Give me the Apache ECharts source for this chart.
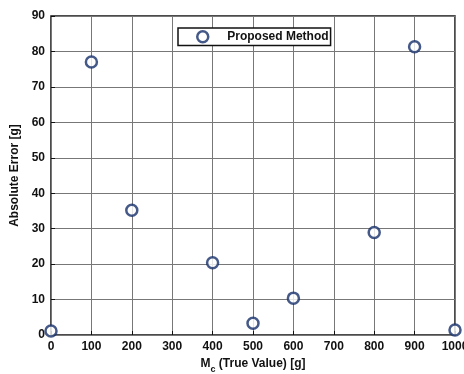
<!DOCTYPE html>
<html>
<head>
<meta charset="utf-8">
<script src="https://cdn.jsdelivr.net/npm/echarts@6/dist/echarts.min.js"></script>
<style>
  html, body { margin: 0; padding: 0; background: #fff; }
  #chart { width: 464px; height: 374px; }
</style>
</head>
<body>
<div id="chart"></div>
<script>
// true value (g) and absolute error (g)
var trueValues = [0, 100, 200, 400, 500, 600, 800, 900, 1000];
var absErrors = [1.1, 77, 35.2, 20.4, 3.3, 10.4, 28.9, 81.3, 1.4];
var seriesName = 'Proposed Method';

var font = '"Liberation Sans", Arial, sans-serif';

var points = trueValues.map(function (x, i) {
    return [x, absErrors[i]];
});

var myChart = echarts.init(document.getElementById('chart'));
myChart.setOption({
    animation: false,
    backgroundColor: '#fff',
    textStyle: { fontFamily: font },
    grid: {
        left: 51, right: 9, top: 16, bottom: 39,
        outerBoundsMode: 'none',
        containLabel: false,
        show: true, borderColor: '#111', borderWidth: 1.5, backgroundColor: 'transparent'
    },
    legend: {
        data: [{ name: seriesName, itemStyle: { color: '#fff', borderColor: '#16306a', borderWidth: 2.5 } }],
        top: 28,
        left: 178,
        padding: [2, 2, 2, 18],
        itemGap: 0,
        itemWidth: 11,
        itemHeight: 11,
        borderColor: '#111',
        borderWidth: 1.5,
        backgroundColor: '#fff',
        textStyle: { fontFamily: font, fontSize: 12, fontWeight: 'bold', color: '#111', padding: [0, 0, 0, 14] }
    },
    xAxis: {
        type: 'value',
        min: 0,
        max: 1000,
        interval: 100,
        name: '{m|M}{c|c} (True Value) [g]',
        nameLocation: 'middle',
        nameGap: 12,
        nameTextStyle: {
            fontFamily: font, fontSize: 12, fontWeight: 'bold', color: '#111',
            rich: {
                m: { fontFamily: font, fontSize: 12, fontWeight: 'bold', color: '#111' },
                c: { fontFamily: font, fontSize: 9, fontWeight: 'bold', color: '#111', padding: [12, 0, 0, 0] }
            }
        },
        axisLine: { show: false },
        axisTick: { show: true, inside: true, length: 4, lineStyle: { color: '#111' } },
        axisLabel: {
            fontFamily: font, fontSize: 12, fontWeight: 'bold', color: '#111', margin: 6,
            formatter: function (v) { return String(v); }
        },
        splitLine: { show: true, lineStyle: { color: '#777', width: 1 } }
    },
    yAxis: {
        type: 'value',
        min: 0,
        max: 90,
        interval: 10,
        name: 'Absolute Error [g]',
        nameLocation: 'middle',
        nameGap: 26,
        nameTextStyle: { fontFamily: font, fontSize: 12, fontWeight: 'bold', color: '#111' },
        axisLine: { show: false },
        axisTick: { show: true, inside: true, length: 4, lineStyle: { color: '#111' } },
        axisLabel: { fontFamily: font, fontSize: 12, fontWeight: 'bold', color: '#111', margin: 6 },
        splitLine: { show: true, lineStyle: { color: '#777', width: 1 } }
    },
    series: [
        {
            name: seriesName,
            type: 'scatter',
            data: points,
            symbol: 'circle',
            symbolSize: 11,
            itemStyle: { color: '#fff', borderColor: '#16306a', borderWidth: 2.5 },
            clip: false
        }
    ]
});
</script>
</body>
</html>
